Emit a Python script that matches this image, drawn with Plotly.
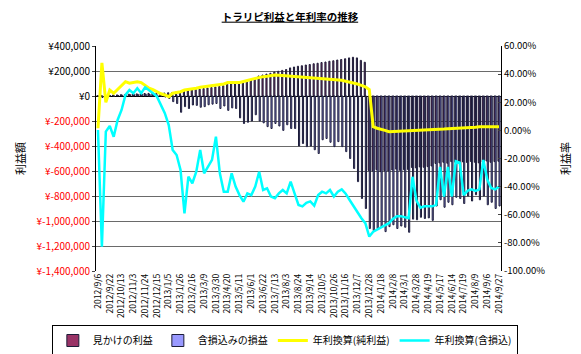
import plotly.graph_objects as go

# ---------------- data ----------------
dates = [
    "2012/9/6", "2012/9/8", "2012/9/15", "2012/9/22", "2012/9/29", "2012/10/6", "2012/10/13",
    "2012/10/20", "2012/10/27", "2012/11/3", "2012/11/10", "2012/11/17", "2012/11/24",
    "2012/12/1", "2012/12/8", "2012/12/15", "2012/12/22", "2012/12/29", "2013/1/5",
    "2013/1/12", "2013/1/19", "2013/1/26", "2013/2/2", "2013/2/9", "2013/2/16", "2013/2/23",
    "2013/3/2", "2013/3/9", "2013/3/16", "2013/3/23", "2013/3/30", "2013/4/6", "2013/4/13",
    "2013/4/20", "2013/4/27", "2013/5/4", "2013/5/11", "2013/5/18", "2013/5/25", "2013/6/1",
    "2013/6/8", "2013/6/15", "2013/6/22", "2013/6/29", "2013/7/6", "2013/7/13", "2013/7/20",
    "2013/7/27", "2013/8/3", "2013/8/10", "2013/8/17", "2013/8/24", "2013/8/31", "2013/9/7",
    "2013/9/14", "2013/9/21", "2013/9/28", "2013/10/5", "2013/10/12", "2013/10/19",
    "2013/10/26", "2013/11/2", "2013/11/9", "2013/11/16", "2013/11/23", "2013/11/30",
    "2013/12/7", "2013/12/14", "2013/12/21", "2013/12/28", "2014/1/4", "2014/1/11",
    "2014/1/18", "2014/1/25", "2014/2/1", "2014/2/8", "2014/2/15", "2014/2/22", "2014/3/1",
    "2014/3/8", "2014/3/15", "2014/3/28", "2014/4/5", "2014/4/12", "2014/4/19", "2014/4/26",
    "2014/5/3", "2014/5/17", "2014/5/24", "2014/5/31", "2014/6/14", "2014/6/21", "2014/7/5",
    "2014/7/19", "2014/7/26", "2014/8/2", "2014/8/9", "2014/8/16", "2014/8/30", "2014/9/6",
    "2014/9/13", "2014/9/20", "2014/9/27",
]

# 見かけの利益 (yen)
apparent_profit = [
    2000, 3000, 4000, 6000, 8000, 9000, 11000, 12000, 14000, 15000, 17000, 18000, 20000,
    21000, 22000, 20000, 22000, 24000,
    26000, 28000, 32000, 36000, 42000, 45000, 48000, 52000, 55000, 60000,
    64000, 68000, 72000, 76000, 82000, 95000, 100000, 104000, 110000, 116000,
    122000, 128000, 140000, 160000, 168000, 175000, 182000, 192000, 198000, 205000,
    212000, 225000, 232000, 238000, 242000, 248000, 252000, 258000, 262000, 268000,
    272000, 278000, 282000, 288000, 292000, 298000, 305000, 310000, 305000, 285000,
    270000,
    -595000, -600000, -590000, -605000, -598000, -600000, -592000, -585000, -596000, -590000,
    -588000, -572000, -575000, -568000, -570000, -565000, -560000, -540000, -535000, -530000,
    -538000, -525000, -530000, -520000, -528000, -532000, -524000, -530000, -535000, -528000,
    -520000, -530000, -525000, -522000,
]

# 含損込みの損益 (yen)
incl_loss_profit = [
    -3000, -12000, 0, 2000, -2000, 4000, 6000, 9000, 11000, 12000, 13000, 15000, 14000,
    12000, 8000, 4000, -2000, -8000,
    -20000, -45000, -60000, -130000, -85000, -100000, -72000, -75000, -90000, -85000,
    -70000, -65000, -60000, -100000, -80000, -115000, -95000, -100000, -175000, -220000,
    -210000, -200000, -150000, -200000, -215000, -245000, -260000, -220000, -240000, -275000,
    -230000, -260000, -260000, -400000, -380000, -405000, -400000, -430000, -460000, -350000,
    -340000, -370000, -405000, -365000, -405000, -445000, -500000, -580000, -685000, -820000,
    -900000,
    -1060000, -1075000, -1060000, -1050000, -1085000, -1045000, -1030000, -1060000, -1040000,
    -1050000, -1090000, -985000, -990000, -970000, -980000, -975000, -995000, -880000,
    -830000, -890000, -850000, -870000, -810000, -820000, -860000, -800000, -840000,
    -790000, -830000, -800000, -870000, -850000, -900000, -880000,
]

# 年利換算(純利益) (%)
annual_net = [
    1.5, 48, 20, 28.7, 26.4, 29, 32, 34.6, 33.5, 34, 34.6, 34, 32.3, 30, 29, 27.5, 26, 25.2,
    24, 26.4, 27, 27.5, 28.7, 29, 29.5, 30, 30.6, 31, 31.5, 31.8, 32, 32.3, 33, 34, 33.8, 34,
    34, 35, 35.5, 36.3, 37, 37.5, 38.2, 38.5, 39, 39.4, 39.2, 39, 38.8, 38.5, 38.2, 38, 38,
    37.8, 37.7, 37.5, 37.3, 37.1, 36.9, 36.6, 36.3, 36, 35.6, 35, 34.5, 33.8, 33, 32, 31,
    29, 2.6, 1.5, 0.5, 0, -0.9, -0.8, -0.6, -0.5, -0.4, -0.2, 0, 0.1, 0.2, 0.3, 0.5, 0.6,
    0.8, 0.9, 1, 1.2, 1.3, 1.5, 1.5, 1.7, 2, 1.9, 2.2, 2.6, 2.3, 2.5, 2.6, 2.4, 2.5,
]

# 年利換算(含損込) (%)
annual_incl = [
    0.3, -82.7, -0.9, 3.1, -4.5, 7.4, 14.5, 25.2, 28.7, 26.4, 29.9, 26.4, 30.6, 28.7, 26.4,
    24, 18, 12.2, 3.8, -13.9, -17.5, -28.2, -59, -32.9, -37.6, -29.4,
    -14, -30.5, -25.8, -21, -4.5, -30.5, -43.6, -43.6, -30.5, -40, -46, -50.7, -44.8, -46,
    -40, -29.4, -42.4, -41.2, -47, -48.3, -44.8, -42.4, -44.8, -36.5, -44.8, -53,
    -54, -51.5, -50.5, -53.5, -46, -43.6, -44.8, -42.4, -47, -43.6, -42, -45, -49.5, -54,
    -58, -62.5, -66, -75.5,
    -72, -70.5, -69.6, -68, -66, -63, -61, -61, -61.5, -62.5, -33, -50, -55, -54, -54, -54,
    -53, -26, -47, -26, -47, -22, -23, -46, -43, -42, -43, -42, -21, -35, -41, -42, -40,
]

left_ticks = [400000, 200000, 0, -200000, -400000, -600000, -800000, -1000000, -1200000, -1400000]
right_ticks = [60, 40, 20, 0, -20, -40, -60, -80, -100]

# ---------------- figure ----------------
FONT = "Noto Sans CJK JP"
EDGE = "#1c1c38"

fig = go.Figure()
fig.add_trace(go.Bar(
    x=dates, y=apparent_profit, name="見かけの利益",
    marker=dict(color="#993366", line=dict(color=EDGE, width=1)),
))
fig.add_trace(go.Bar(
    x=dates, y=incl_loss_profit, name="含損込みの損益",
    marker=dict(color="#9999ff", line=dict(color=EDGE, width=1)),
))
fig.add_trace(go.Scatter(
    x=dates, y=annual_net, name="年利換算(純利益)", yaxis="y2", mode="lines",
    line=dict(color="#ffff00", width=3),
))
fig.add_trace(go.Scatter(
    x=dates, y=annual_incl, name="年利換算(含損込)", yaxis="y2", mode="lines",
    line=dict(color="#00ffff", width=2.5),
))

left_text = []
for v in left_ticks:
    s = f"¥{v:,}"
    if v < 0:
        s = f'<span style="color:#ff0000">{s}</span>'
    left_text.append(s)
right_text = [f"{v:.2f}%" for v in right_ticks]

tick_dates = dates[::3]

fig.update_layout(
    width=581, height=354,
    margin=dict(l=96, r=80, t=46, b=83, autoexpand=False),
    paper_bgcolor="white", plot_bgcolor="white",
    font=dict(family=FONT, size=10, color="black"),
    barmode="group", bargap=0.43, bargroupgap=0,
    title=dict(text="<b><u>トラリピ利益と年利率の推移</u></b>", x=0.499, xanchor="center",
               y=1 - 17 / 354, yanchor="middle", font=dict(size=10.5, family=FONT)),
    xaxis=dict(type="category", tickmode="array", tickvals=tick_dates, ticktext=tick_dates,
               tickangle=-90, tickfont=dict(size=8.5, family=FONT), showgrid=False,
               showline=False, ticks="", range=[-0.5, len(dates) - 0.5]),
    yaxis=dict(range=[-1400000, 400000], tickmode="array", tickvals=left_ticks,
               ticktext=left_text, showgrid=True, gridcolor="#6a6a6a", gridwidth=1,
               zeroline=True, zerolinecolor="black", zerolinewidth=1,
               showline=True, linecolor="black", linewidth=1, ticks="outside", ticklen=3,
               tickfont=dict(size=10),
               title=dict(text="利益額", font=dict(size=11), standoff=8)),
    yaxis2=dict(range=[-100, 60], overlaying="y", side="right", tickmode="array",
                tickvals=right_ticks, ticktext=right_text, showgrid=False, zeroline=False,
                showline=True, linecolor="black", linewidth=1, ticks="inside", ticklen=3,
                tickfont=dict(size=9.5),
                title=dict(text="利益率", font=dict(size=11), standoff=18)),
    legend=dict(orientation="h", x=-0.109, xanchor="left", y=-(325 - 271) / 225,
                yanchor="top", bordercolor="black", borderwidth=1, font=dict(size=10),
                traceorder="normal"),
    showlegend=True,
)

fig.write_html("out.html")
